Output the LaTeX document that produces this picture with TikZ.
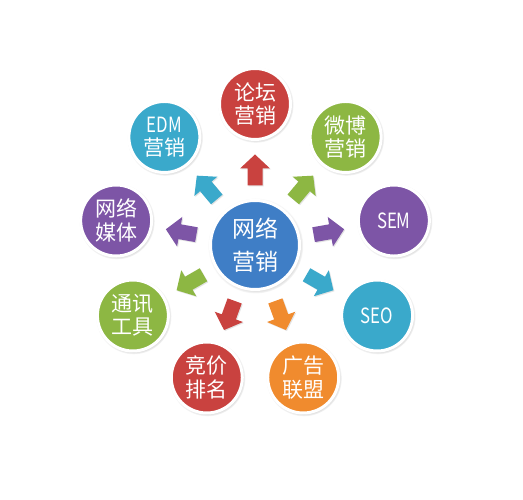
\documentclass[tikz,border=0pt]{standalone}
\usepackage{fontspec}
\usepackage{graphicx}
\setmainfont{Noto Sans CJK SC}
\usetikzlibrary{shadows,calc}
\definecolor{cred}{HTML}{C9423F}
\definecolor{cgreen}{HTML}{8DB743}
\definecolor{cpurple}{HTML}{7D55A6}
\definecolor{ccyan}{HTML}{3AA9CB}
\definecolor{corange}{HTML}{F08B2E}
\definecolor{cblue}{HTML}{3F7EC6}
\newcommand{\narrow}[1]{\scalebox{0.8}[1]{#1}}
\begin{document}
\begin{tikzpicture}[
  ball/.style={circle, fill=#1, draw=white, line width=3pt, minimum size=71pt,
    inner sep=0pt, text=white, align=center,
    font=\fontsize{21}{23.5}\selectfont,
    circular drop shadow={shadow xshift=0.6pt, shadow yshift=-0.8pt, shadow scale=1.07, fill=black!45, opacity=0.6}},
  hub/.style={ball=#1, minimum size=89pt, font=\fontsize{23}{33}\selectfont},
  pics/barrow/.style={code={
    \fill[#1, drop shadow={opacity=0.22, shadow xshift=1pt, shadow yshift=-1pt}]
      (-15.5pt,-7.5pt) -- (1.5pt,-7.5pt) -- (1.5pt,-15pt) -- (15.5pt,0pt)
      -- (1.5pt,15pt) -- (1.5pt,7.5pt) -- (-15.5pt,7.5pt) -- cycle;}}
]
\fill[white] (0,0) rectangle (523pt,500pt);
\useasboundingbox (0,0) rectangle (523pt,500pt);
\coordinate (o) at (255pt,255pt);
% outer circles
\node[ball=cred]    (n1) at ($(o)+(90:141pt)$)   {论坛\\营销};
\node[ball=cgreen]  (n2) at ($(o)+(50:141pt)$)   {微博\\营销};
\node[ball=cpurple] (n3) at ($(o)+(10:141pt)$)   {\narrow{SEM}};
\node[ball=ccyan]   (n4) at ($(o)+(-30:141pt)$)  {\narrow{SEO}};
\node[ball=corange] (n5) at ($(o)+(-70:141pt)$)  {广告\\联盟};
\node[ball=cred]    (n6) at ($(o)+(-110:141pt)$) {竞价\\排名};
\node[ball=cgreen]  (n7) at ($(o)+(-150:141pt)$) {通讯\\工具};
\node[ball=cpurple] (n8) at ($(o)+(170:141pt)$)  {网络\\媒体};
\node[ball=ccyan]   (n9) at ($(o)+(130:141pt)$)  {\narrow{EDM}\\营销};
% centre
\node[hub=cblue] (c) at (o) {网络\\营销};
% block arrows from the centre towards each circle
\foreach \i/\a/\col in {1/90/cred, 2/50/cgreen, 3/10/cpurple, 4/-30/ccyan,
    5/-70/corange, 6/-110/cred, 7/-150/cgreen, 8/170/cpurple, 9/130/ccyan}{
  \pic[rotate=\a] at ($(c.center)!75pt!(n\i.center)$) {barrow=\col};
}
\end{tikzpicture}
\end{document}
